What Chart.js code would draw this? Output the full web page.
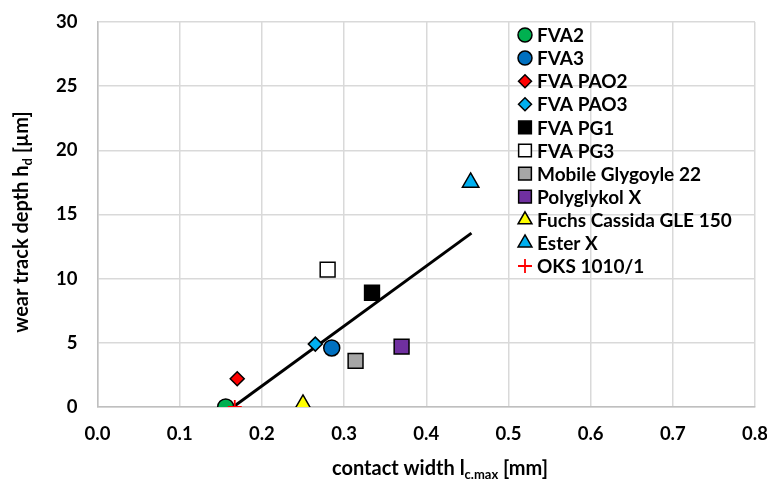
<!DOCTYPE html>
<html lang="en">
<head>
<script src="https://cdn.jsdelivr.net/npm/chart.js"></script>
<style>
  body { margin: 0; background: #fff; }
  #wrap { width: 767px; height: 486px; }
</style>
</head>
<body>
<div id="wrap"><canvas id="myChart" width="767" height="486"></canvas></div>
<script>
// lubricants, one point each (contact width in mm, wear depth in µm)
const names = ["FVA2", "FVA3", "FVA PAO2", "FVA PAO3", "FVA PG1", "FVA PG3",
    "Mobile Glygoyle 22", "Polyglykol X", "Fuchs Cassida GLE 150", "Ester X", "OKS 1010/1"]
const widths = [0.156, 0.285, 0.170, 0.265, 0.334, 0.280, 0.314, 0.370, 0.250, 0.454, 0.167]
const depths = [0.0, 4.6, 2.2, 4.9, 8.9, 10.7, 3.6, 4.7, 0.2, 17.5, 0.0]
const fills = ["#00b050", "#0070c0", "#ff0000", "#00b0f0", "#000000", "#ffffff",
    "#a6a6a6", "#7030a0", "#ffff00", "#00b0f0", "#ff0000"]
const shapes = ["circle", "circle", "rectRot", "rectRot", "rect", "rect",
    "rect", "rect", "triangle", "triangle", "cross"]
const sizes = [8, 8, 7, 7, 10.5, 10.5, 10.5, 10.5, 9.5, 9.5, 7]

// linear trend line
const trendX = [0.165, 0.455]
const trendY = [0.0, 13.55]

const xTicks = [0, 0.1, 0.2, 0.3, 0.4, 0.5, 0.6, 0.7, 0.8]
const yTicks = [0, 5, 10, 15, 20, 25, 30]

const FONT = "Lato, 'Liberation Sans', sans-serif"

const datasets = names.map((n, i) => ({
    label: n,
    data: [{ x: widths[i], y: depths[i] }],
    pointStyle: shapes[i],
    pointRadius: sizes[i],
    pointHoverRadius: sizes[i],
    backgroundColor: fills[i],
    borderColor: shapes[i] == "cross" ? "#ff0000" : "#000000",
    borderWidth: shapes[i] == "cross" ? 1.8 : 1.5,
    order: shapes[i] == "cross" ? 0 : 1,  // cross sits on top
}))
datasets.push({
    label: "trend",
    type: "line",
    data: trendX.map((x, i) => ({ x: x, y: trendY[i] })),
    borderColor: "#000000",
    borderWidth: 3,
    pointRadius: 0,
    showLine: true,
    order: 2,
})

// legend inside plot + axis titles with subscripts
const extras = {
    id: "extras",
    afterDraw(chart) {
        const ctx = chart.ctx
        ctx.save()
        ctx.fillStyle = "#000"
        ctx.textBaseline = "middle"
        names.forEach((n, i) => {
            const ds = chart.data.datasets[i]
            const y = 35 + i * 23.1
            const x = 525
            ctx.fillStyle = ds.backgroundColor
            ctx.strokeStyle = ds.borderColor
            ctx.lineWidth = ds.borderWidth
            let r = ds.pointRadius
            if (shapes[i] == "rect") r = 9
            else if (shapes[i] == "circle") r = 7
            else if (shapes[i] == "triangle") r = 8
            else if (shapes[i] == "rectRot") r = 6.5
            Chart.helpers.drawPoint(ctx, { pointStyle: shapes[i], radius: r, borderWidth: ds.borderWidth, rotation: 0 }, x, y)
            ctx.fillStyle = "#000"
            ctx.font = "bold 19px " + FONT
            ctx.textAlign = "left"
            ctx.fillText(n, 537, y + 1)
        })

        // x title
        const big = "bold 20px " + FONT
        const small = "bold 13px " + FONT
        const xParts = [["contact width l", big, 0], ["c.max", small, 6], [" [mm]", big, 0]]
        drawParts(ctx, xParts, 440, 469)

        // y title, rotated
        ctx.translate(22, 222)
        ctx.rotate(-Math.PI / 2)
        const yParts = [["wear track depth h", big, 0], ["d", small, 6], [" [µm]", big, 0]]
        drawParts(ctx, yParts, 0, 0)
        ctx.restore()
    },
}

function drawParts(ctx, parts, cx, cy) {
    let total = 0
    parts.forEach((p) => { ctx.font = p[1]; total += ctx.measureText(p[0]).width })
    let x = cx - total / 2
    ctx.textAlign = "left"
    ctx.textBaseline = "middle"
    ctx.fillStyle = "#000"
    parts.forEach((p) => {
        ctx.font = p[1]
        ctx.fillText(p[0], x, cy + p[2])
        x += ctx.measureText(p[0]).width
    })
}

const ctx = document.getElementById("myChart")
new Chart(ctx, {
    type: "scatter",
    data: { datasets: datasets },
    plugins: [extras],
    options: {
        responsive: false,
        animation: false,
        layout: { padding: { top: 22, right: 12, left: 0, bottom: 0 } },
        plugins: {
            legend: { display: false },
            tooltip: { enabled: false },
        },
        scales: {
            x: {
                min: 0, max: 0.8,
                afterFit: (s) => { s.height = 79; s.paddingLeft = 0; s.paddingRight = 0 },
                afterBuildTicks: (s) => { s.ticks = xTicks.map((v) => ({ value: v })) },
                grid: { color: "#d9d9d9", lineWidth: 1.5, drawTicks: false },
                border: { color: "#bfbfbf", width: 1.5 },
                ticks: {
                    color: "#000", padding: 16,
                    font: { family: FONT, size: 18.5, weight: "bold" },
                    callback: (v) => v.toFixed(1),
                },
            },
            y: {
                min: 0, max: 30,
                afterFit: (s) => { s.width = 97.5; s.paddingTop = 0; s.paddingBottom = 0 },
                afterBuildTicks: (s) => { s.ticks = yTicks.map((v) => ({ value: v })) },
                grid: { color: "#d9d9d9", lineWidth: 1.5, drawTicks: false },
                border: { color: "#bfbfbf", width: 1.5 },
                ticks: {
                    color: "#000", padding: 20,
                    font: { family: FONT, size: 18.5, weight: "bold" },
                },
            },
        },
    },
})
</script>
</body>
</html>
